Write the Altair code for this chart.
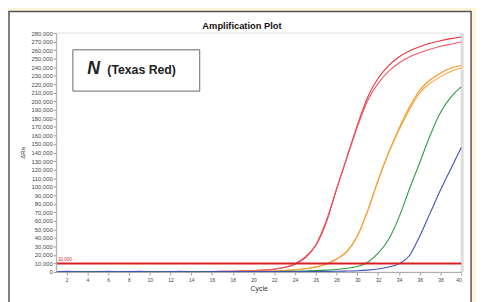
import altair as alt
import pandas as pd

cycles = list(range(1, 41))

red_a = [300, 500, 400, 350, 500, 600, 450, 400, 500, 450, 400, 500, 550, 450, 500, 600, 700, 900, 1200, 1600,
         2200, 3200, 5200, 9200, 17000, 31000, 58000, 97000, 135000, 172000, 205000, 227000, 242000, 252000, 259000, 264000, 268000, 271000, 273500, 275500]
red_b = [350, 450, 400, 400, 450, 550, 500, 450, 450, 400, 450, 500, 500, 500, 450, 550, 750, 950, 1300, 1700,
         2300, 3400, 5500, 9800, 18000, 32000, 60000, 98000, 134000, 170000, 201000, 221000, 235000, 245000, 252000, 257000, 261000, 264500, 267000, 269500]
orange_a = [300, 400, 350, 300, 400, 500, 400, 350, 450, 400, 350, 450, 500, 400, 450, 500, 550, 600, 650, 750,
            900, 1200, 1700, 2500, 3800, 5800, 9000, 15000, 24000, 42000, 72000, 108000, 140000, 168000, 193000, 213000, 225000, 233000, 239000, 242000]
orange_b = [300, 350, 350, 350, 400, 450, 400, 400, 400, 400, 400, 400, 450, 450, 450, 500, 550, 600, 700, 800,
            950, 1250, 1800, 2600, 3900, 6000, 9300, 15500, 24500, 42500, 72000, 107000, 139000, 166000, 190000, 210000, 221000, 229000, 235000, 239000]
green = [250, 350, 300, 300, 350, 400, 350, 300, 400, 350, 300, 400, 450, 350, 400, 450, 500, 550, 550, 600,
         600, 650, 700, 900, 1200, 1600, 2200, 3000, 4300, 6500, 11500, 22000, 38000, 64000, 97000, 128000, 160000, 187000, 205000, 217000]
blue = [200, 700, 300, 200, 400, 800, 300, 600, 700, 300, 200, 400, 800, 300, 300, 400, 400, 450, 450, 500,
        500, 500, 550, 550, 600, 650, 700, 800, 1100, 1500, 2200, 3500, 5800, 9500, 19000, 42000, 69000, 96000, 121000, 146000]

series_names = ["Red A", "Red B", "Orange A", "Orange B", "Green", "Blue"]
series_values = [red_a, red_b, orange_a, orange_b, green, blue]
series_colors = ["#E8343C", "#EC5A62", "#F7941D", "#F5A340", "#2E9A3E", "#3F51B5"]

threshold = [10000]
x_ticks = list(range(2, 41, 2))
y_ticks = list(range(0, 280001, 10000))

rows = []
for name, vals in zip(series_names, series_values):
    for c, v in zip(cycles, vals):
        rows.append({"series": name, "cycle": c, "value": v})
df = pd.DataFrame(rows)

W, H = 412, 243
FONT = "Liberation Sans"

x_enc = alt.X("cycle:Q",
              scale=alt.Scale(domain=[1, 40], nice=False, zero=False),
              axis=alt.Axis(values=x_ticks, format="d", title="Cycle", grid=False, zindex=1, labelOverlap=False,
                            labelFontSize=5, labelPadding=3, tickSize=3, titleFontSize=7,
                            titlePadding=2, titleFontWeight="normal"))
y_enc = alt.Y("value:Q",
              scale=alt.Scale(domain=[0, 280000], nice=False),
              axis=alt.Axis(values=y_ticks, format=",d", title="ΔRn", grid=False, zindex=1, labelOverlap=False,
                            labelFontSize=6, labelPadding=1, tickSize=3, titleFontSize=6,
                            titlePadding=6, titleFontWeight="normal"))

one = pd.DataFrame({"k": [0]})

panel = alt.Chart(one).mark_rect(fill="white", stroke="#555555", strokeWidth=1.5).encode(
    x=alt.value(-48), x2=alt.value(422), y=alt.value(-22), y2=alt.value(300))

frame = alt.Chart(one).mark_rect(fill=None, stroke="#e2e2e2", strokeWidth=1).encode(
    x=alt.value(0), x2=alt.value(W), y=alt.value(0), y2=alt.value(H))
right_bar = alt.Chart(one).mark_rule(color="#dddddd", strokeWidth=3).encode(
    x=alt.value(W + 1), y=alt.value(0), y2=alt.value(H))

curves = alt.Chart(df).mark_line(strokeWidth=1.1, interpolate="monotone").encode(
    x=x_enc, y=y_enc,
    color=alt.Color("series:N", scale=alt.Scale(domain=series_names, range=series_colors), legend=None),
    detail="series:N")

thr_df = pd.DataFrame({"value": threshold, "lab": ["10,000"]})
thr = alt.Chart(thr_df).mark_rule(color="#D71F26", strokeWidth=2).encode(y=y_enc)
thr_lab = alt.Chart(thr_df).mark_text(color="#D71F26", fontSize=4.5, align="left", baseline="bottom",
                                      dy=-1.5, font=FONT).encode(
    x=alt.value(2), y=y_enc, text="lab:N")

box = alt.Chart(one).mark_rect(fill="white", stroke="#666666", strokeWidth=1).encode(
    x=alt.value(17), x2=alt.value(146), y=alt.value(17), y2=alt.value(59))
n_text = alt.Chart(one).mark_text(text="N", fontSize=18, fontWeight="bold", fontStyle="italic",
                                  font=FONT, align="center", baseline="alphabetic", color="#222222").encode(
    x=alt.value(38), y=alt.value(42))
tr_text = alt.Chart(one).mark_text(text="(Texas Red)", fontSize=12.5, fontWeight="bold",
                                   font=FONT, align="left", baseline="alphabetic", color="#222222").encode(
    x=alt.value(52), y=alt.value(42))

title = alt.Chart(one).mark_text(text="Amplification Plot", fontSize=9.5, fontWeight="bold",
                                 font=FONT, align="center", baseline="alphabetic", color="#111111").encode(
    x=alt.value(189), y=alt.value(-4))

chart = alt.layer(panel, frame, right_bar, curves, thr, thr_lab, box, n_text, tr_text, title).properties(
    width=W, height=H,
    autosize=alt.AutoSizeParams(type="none"),
    padding={"left": 49, "top": 23, "right": 15, "bottom": 28},
    background="#FBF5D9",
).configure_view(stroke=None).configure_axis(
    labelFont=FONT, titleFont=FONT, labelColor="#444444", titleColor="#333333",
    tickColor="#999999", domainColor="#aaaaaa", domainWidth=1
)

chart.save("out.html", embed_options={"renderer": "svg", "actions": False})
